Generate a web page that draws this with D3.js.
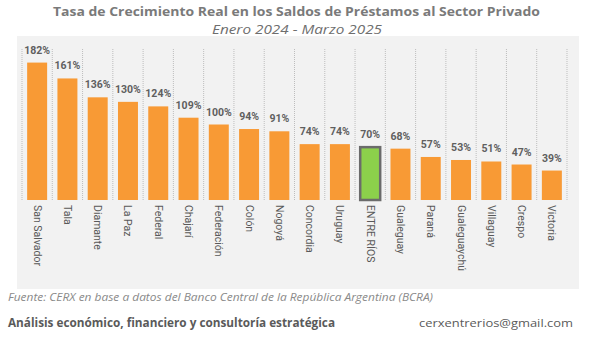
<!DOCTYPE html>
<html>
<head>
<meta charset="utf-8">
<script src="https://cdn.jsdelivr.net/npm/d3@7"></script>
<style>
  body { margin: 0; background: #fff; }
</style>
</head>
<body>
<svg id="chart" width="600" height="345"></svg>
<script>
// datos del grafico
var departamentos = ["San Salvador", "Tala", "Diamante", "La Paz", "Federal", "Chajarí", "Federación", "Colón", "Nogoyá",
  "Concordia", "Uruguay", "ENTRE RÍOS", "Gualeguay", "Paraná", "Gualeguaychú", "Villaguay", "Crespo", "Victoria"];
var crecimiento = [182, 161, 136, 130, 124, 109, 100, 94, 91, 74, 74, 70, 68, 57, 53, 51, 47, 39];
var destacado = "ENTRE RÍOS";

var titulo = "Tasa de Crecimiento Real en los Saldos de Préstamos al Sector Privado";
var subtitulo = "Enero 2024 - Marzo 2025";
var fuente = "Fuente: CERX en base a datos del Banco Central de la República Argentina (BCRA)";
var pie_izq = "Análisis económico, financiero y consultoría estratégica";
var pie_der = "cerxentrerios@gmail.com";

var datos = departamentos.map(function(d, i) { return {nombre: d, valor: crecimiento[i]}; });

var svg = d3.select("#chart");

// panel gris
svg.append("rect")
  .attr("x", 17).attr("y", 36)
  .attr("width", 562).attr("height", 253)
  .attr("fill", "#f2f2f2");

var x = d3.scaleBand()
  .domain(departamentos)
  .range([22, 567])
  .paddingInner(0.34)
  .paddingOuter(0.17);

var y = d3.scaleLinear()
  .domain([0, 200])
  .range([200, 49]);

// lineas punteadas entre categorias
var limites = departamentos.map(function(d) { return x(d) - x.step() * x.paddingInner() / 2; });
limites.push(567);
svg.append("g").selectAll("line")
  .data(limites)
  .enter().append("line")
  .attr("x1", function(d) { return d; })
  .attr("x2", function(d) { return d; })
  .attr("y1", y(200))
  .attr("y2", y(0))
  .attr("stroke", "#bdbdbd")
  .attr("stroke-width", 1)
  .attr("stroke-dasharray", "1,1");

// barras
svg.append("g").selectAll("rect")
  .data(datos)
  .enter().append("rect")
  .attr("x", function(d) { return x(d.nombre); })
  .attr("y", function(d) { return y(d.valor); })
  .attr("width", x.bandwidth())
  .attr("height", function(d) { return y(0) - y(d.valor); })
  .attr("fill", function(d) { return d.nombre === destacado ? "#8cd04b" : "#f89a35"; })
  .attr("stroke", function(d) { return d.nombre === destacado ? "#6b6b6b" : "none"; })
  .attr("stroke-width", 2.5);

// etiquetas de valor
svg.append("g").selectAll("text")
  .data(datos)
  .enter().append("text")
  .attr("x", function(d) { return x(d.nombre) + x.bandwidth() / 2; })
  .attr("y", function(d) { return y(d.valor) - 9; })
  .attr("text-anchor", "middle")
  .style("font", "bold 10.5px Roboto, sans-serif")
  .attr("fill", "#5f5f5f")
  .text(function(d) { return d.valor + "%"; });

// etiquetas del eje x
svg.append("g").selectAll("text")
  .data(datos)
  .enter().append("text")
  .attr("transform", function(d) { return "translate(" + (x(d.nombre) + x.bandwidth() / 2 - 3.5) + ",205) rotate(90)"; })
  .attr("text-anchor", "start")
  .style("font", "10.5px Roboto, sans-serif")
  .attr("fill", "#595959")
  .text(function(d) { return d.nombre; });

// titulos
svg.append("text")
  .attr("x", 53).attr("y", 16)
  .attr("textLength", 487)
  .attr("lengthAdjust", "spacingAndGlyphs")
  .style("font", "bold 13px 'Open Sans', sans-serif")
  .attr("fill", "#7a7a7a")
  .text(titulo);

svg.append("text")
  .attr("x", 212).attr("y", 34)
  .attr("textLength", 170)
  .attr("lengthAdjust", "spacingAndGlyphs")
  .style("font", "italic 12px 'Open Sans', sans-serif")
  .attr("fill", "#6e6e6e")
  .text(subtitulo);

svg.append("text")
  .attr("x", 8).attr("y", 301)
  .attr("textLength", 425)
  .attr("lengthAdjust", "spacingAndGlyphs")
  .style("font", "italic 10.5px 'Open Sans', sans-serif")
  .attr("fill", "#8a8a8a")
  .text(fuente);

svg.append("text")
  .attr("x", 8).attr("y", 327)
  .attr("textLength", 327)
  .attr("lengthAdjust", "spacingAndGlyphs")
  .style("font", "bold 11.5px 'Open Sans', sans-serif")
  .attr("fill", "#5a5a5a")
  .text(pie_izq);

svg.append("text")
  .attr("x", 419).attr("y", 327)
  .attr("textLength", 154)
  .attr("lengthAdjust", "spacingAndGlyphs")
  .style("font", "11.5px 'Open Sans', sans-serif")
  .attr("fill", "#5a5a5a")
  .text(pie_der);
</script>
</body>
</html>
